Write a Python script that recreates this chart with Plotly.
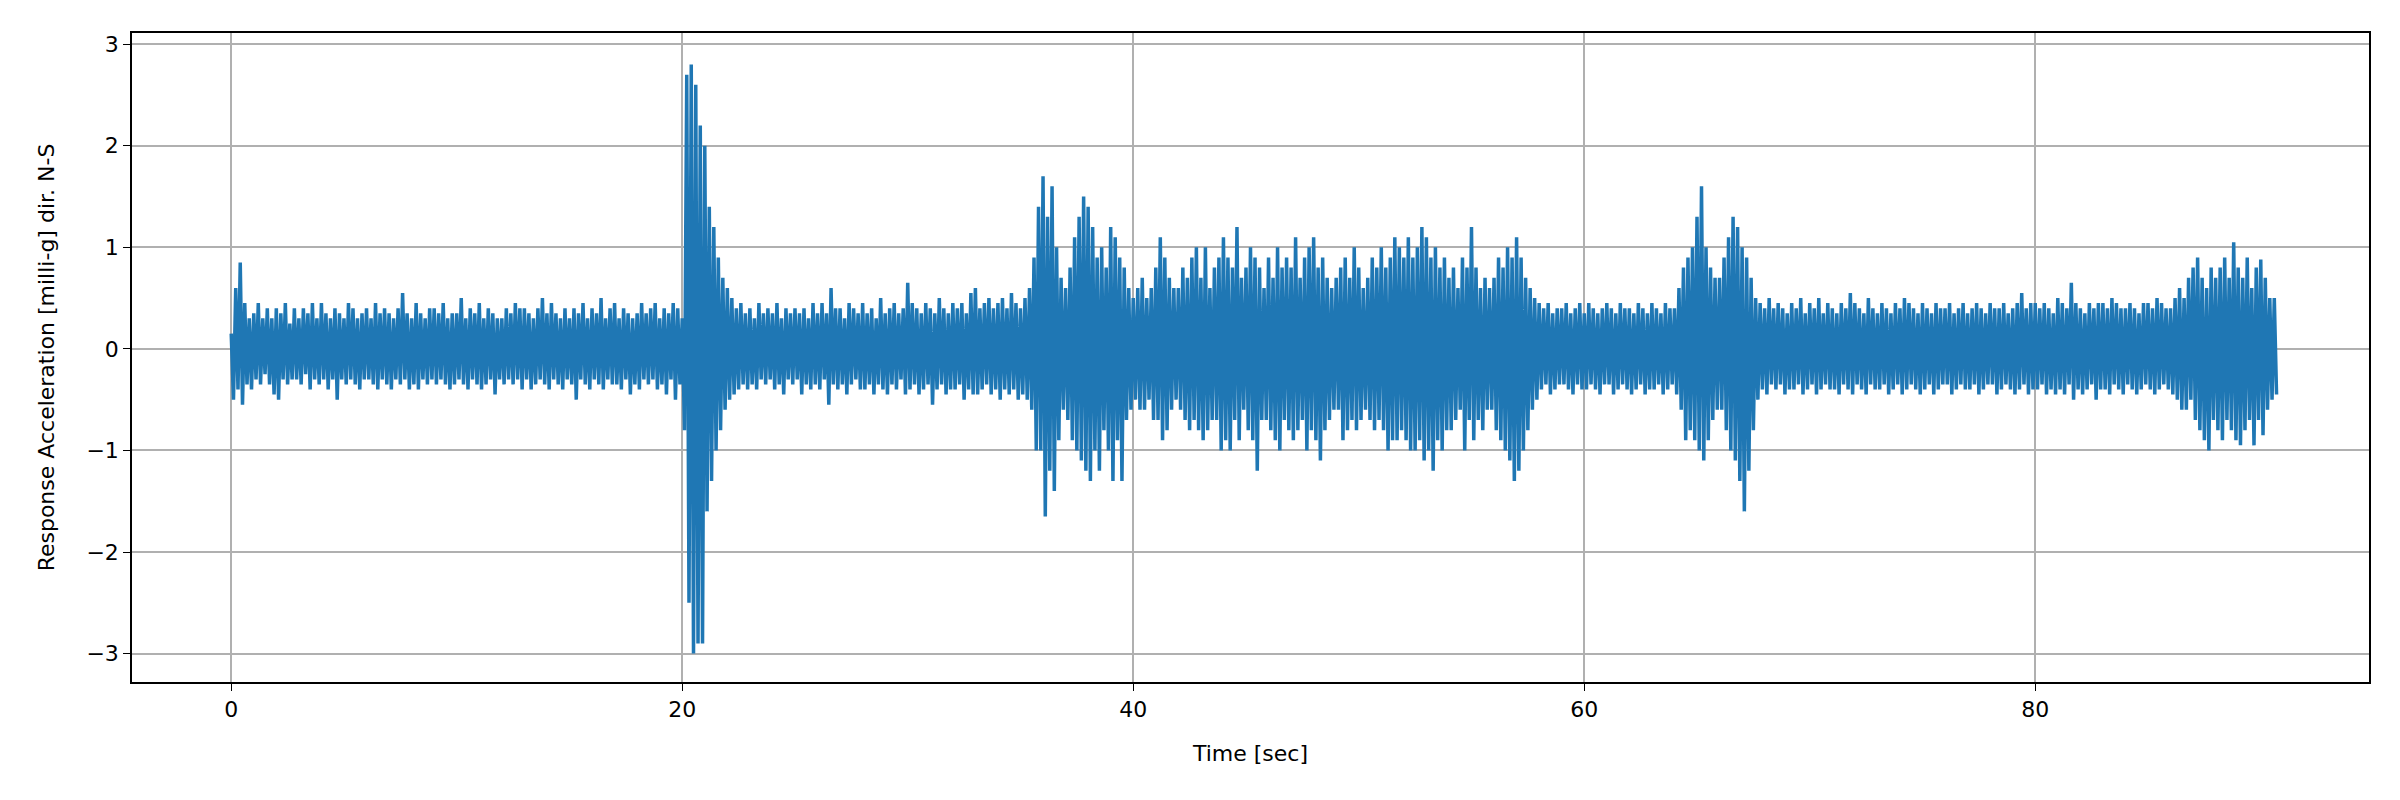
import plotly.graph_objects as go

dt = 0.1

# Response acceleration [milli-g], one row per second
accel = [
    0.15, -0.50, 0.60, -0.40, 0.85, -0.55, 0.45, -0.35, 0.30, -0.40,   # 0
    0.35, -0.30, 0.45, -0.35, 0.30, -0.25, 0.40, -0.35, 0.30, -0.45,
    0.40, -0.50, 0.35, -0.30, 0.45, -0.35, 0.25, -0.30, 0.40, -0.30,
    0.30, -0.35, 0.40, -0.25, 0.35, -0.40, 0.45, -0.30, 0.30, -0.35,
    0.45, -0.30, 0.35, -0.40, 0.30, -0.30, 0.40, -0.50, 0.35, -0.30,
    0.30, -0.35, 0.45, -0.30, 0.40, -0.35, 0.30, -0.40, 0.35, -0.30,   # 5
    0.40, -0.30, 0.30, -0.35, 0.45, -0.40, 0.35, -0.30, 0.40, -0.35,
    0.35, -0.40, 0.30, -0.30, 0.40, -0.35, 0.55, -0.30, 0.35, -0.40,
    0.30, -0.35, 0.45, -0.40, 0.35, -0.30, 0.30, -0.35, 0.40, -0.30,
    0.40, -0.35, 0.35, -0.30, 0.45, -0.35, 0.30, -0.40, 0.35, -0.35,
    0.35, -0.30, 0.50, -0.35, 0.30, -0.40, 0.40, -0.30, 0.35, -0.35,   # 10
    0.45, -0.40, 0.30, -0.35, 0.40, -0.30, 0.35, -0.45, 0.30, -0.30,
    0.30, -0.35, 0.40, -0.30, 0.35, -0.35, 0.45, -0.30, 0.40, -0.40,
    0.40, -0.30, 0.35, -0.40, 0.30, -0.35, 0.40, -0.30, 0.50, -0.35,
    0.35, -0.40, 0.45, -0.30, 0.35, -0.35, 0.30, -0.40, 0.40, -0.30,
    0.30, -0.35, 0.40, -0.50, 0.35, -0.30, 0.45, -0.35, 0.30, -0.40,   # 15
    0.40, -0.30, 0.35, -0.35, 0.50, -0.40, 0.30, -0.30, 0.40, -0.35,
    0.45, -0.35, 0.30, -0.40, 0.40, -0.30, 0.35, -0.45, 0.30, -0.35,
    0.35, -0.40, 0.45, -0.30, 0.35, -0.35, 0.40, -0.30, 0.45, -0.40,
    0.30, -0.35, 0.40, -0.45, 0.35, -0.30, 0.45, -0.50, 0.40, -0.35,
    0.30, -0.80, 2.70, -2.50, 2.80, -3.00, 2.60, -2.90, 2.20, -2.90,   # 20
    2.00, -1.60, 1.40, -1.30, 1.20, -1.00, 0.90, -0.80, 0.70, -0.60,
    0.60, -0.50, 0.50, -0.45, 0.40, -0.40, 0.45, -0.35, 0.35, -0.40,
    0.40, -0.35, 0.30, -0.40, 0.45, -0.30, 0.35, -0.35, 0.40, -0.30,
    0.35, -0.40, 0.45, -0.35, 0.30, -0.45, 0.40, -0.30, 0.35, -0.35,
    0.40, -0.30, 0.35, -0.45, 0.40, -0.35, 0.30, -0.40, 0.45, -0.35,   # 25
    0.35, -0.40, 0.45, -0.30, 0.35, -0.55, 0.60, -0.35, 0.40, -0.40,
    0.40, -0.35, 0.30, -0.45, 0.45, -0.35, 0.40, -0.30, 0.35, -0.40,
    0.45, -0.40, 0.35, -0.35, 0.40, -0.45, 0.30, -0.35, 0.50, -0.40,
    0.35, -0.45, 0.40, -0.35, 0.45, -0.40, 0.35, -0.30, 0.40, -0.45,
    0.65, -0.40, 0.45, -0.35, 0.40, -0.45, 0.35, -0.40, 0.45, -0.35,   # 30
    0.40, -0.55, 0.35, -0.40, 0.50, -0.35, 0.40, -0.45, 0.35, -0.40,
    0.45, -0.40, 0.40, -0.35, 0.45, -0.50, 0.35, -0.40, 0.55, -0.45,
    0.60, -0.45, 0.40, -0.40, 0.45, -0.35, 0.50, -0.45, 0.40, -0.40,
    0.45, -0.50, 0.50, -0.40, 0.40, -0.45, 0.55, -0.40, 0.45, -0.50,
    0.40, -0.45, 0.50, -0.50, 0.60, -0.60, 0.90, -1.00, 1.40, -1.00,   # 35
    1.70, -1.65, 1.30, -1.20, 1.60, -1.40, 1.00, -0.90, 0.70, -0.60,
    0.60, -0.70, 0.80, -0.90, 1.10, -1.00, 1.30, -1.10, 1.50, -1.20,
    1.40, -1.30, 1.20, -1.00, 0.90, -1.20, 1.00, -0.80, 0.80, -1.00,
    1.20, -1.30, 1.10, -0.90, 0.90, -1.30, 0.80, -0.70, 0.60, -0.60,
    0.50, -0.50, 0.60, -0.60, 0.70, -0.60, 0.50, -0.50, 0.60, -0.70,   # 40
    0.80, -0.70, 1.10, -0.90, 0.90, -0.80, 0.70, -0.60, 0.60, -0.50,
    0.60, -0.60, 0.80, -0.70, 0.70, -0.80, 0.90, -0.70, 1.00, -0.80,
    0.70, -0.90, 1.00, -0.80, 0.60, -0.70, 0.80, -0.70, 0.90, -1.00,
    1.10, -0.90, 0.90, -1.00, 0.80, -0.70, 1.20, -0.90, 0.70, -0.60,
    0.80, -0.80, 1.00, -0.90, 0.90, -1.20, 0.80, -0.70, 0.60, -0.70,   # 45
    0.90, -0.80, 0.70, -0.90, 1.00, -1.00, 0.80, -0.70, 0.90, -0.80,
    0.80, -0.90, 1.10, -0.80, 0.70, -0.70, 0.90, -1.00, 1.00, -0.80,
    1.10, -0.90, 0.80, -1.10, 0.90, -0.80, 0.70, -0.70, 0.60, -0.60,
    0.70, -0.60, 0.80, -0.90, 0.90, -0.80, 0.70, -0.70, 1.00, -0.80,
    0.80, -0.70, 0.60, -0.60, 0.70, -0.70, 0.90, -0.80, 0.80, -0.70,   # 50
    1.00, -0.80, 0.80, -1.00, 0.90, -0.90, 1.10, -0.90, 1.00, -0.80,
    0.90, -0.90, 1.10, -1.00, 0.90, -1.00, 1.00, -0.90, 1.20, -1.10,
    1.10, -1.00, 0.90, -1.20, 1.00, -0.90, 0.80, -1.00, 0.90, -0.80,
    0.70, -0.80, 0.80, -0.70, 0.60, -0.60, 0.90, -1.00, 0.80, -0.70,
    1.20, -0.90, 0.80, -0.70, 0.60, -0.80, 0.70, -0.60, 0.60, -0.60,   # 55
    0.70, -0.80, 0.90, -0.90, 0.80, -1.00, 1.00, -1.10, 0.90, -1.30,
    1.10, -1.20, 0.90, -1.00, 0.70, -0.80, 0.60, -0.60, 0.50, -0.50,
    0.45, -0.40, 0.40, -0.35, 0.45, -0.45, 0.35, -0.40, 0.40, -0.35,
    0.40, -0.35, 0.45, -0.40, 0.35, -0.45, 0.40, -0.35, 0.45, -0.40,
    0.35, -0.40, 0.45, -0.35, 0.40, -0.40, 0.35, -0.45, 0.40, -0.35,   # 60
    0.45, -0.35, 0.40, -0.45, 0.35, -0.40, 0.45, -0.35, 0.40, -0.40,
    0.40, -0.45, 0.35, -0.40, 0.45, -0.35, 0.40, -0.45, 0.35, -0.40,
    0.45, -0.40, 0.40, -0.35, 0.35, -0.45, 0.45, -0.40, 0.40, -0.35,
    0.40, -0.45, 0.60, -0.60, 0.80, -0.90, 0.90, -0.80, 1.00, -0.90,
    1.30, -1.00, 1.60, -1.10, 1.00, -0.90, 0.80, -0.70, 0.70, -0.60,   # 65
    0.70, -0.60, 0.90, -0.80, 1.10, -1.00, 1.30, -1.10, 1.20, -1.30,
    1.00, -1.60, 0.90, -1.20, 0.70, -0.80, 0.50, -0.50, 0.45, -0.40,
    0.40, -0.45, 0.50, -0.35, 0.40, -0.40, 0.45, -0.35, 0.40, -0.45,
    0.35, -0.40, 0.45, -0.40, 0.40, -0.35, 0.50, -0.45, 0.35, -0.40,
    0.45, -0.35, 0.40, -0.45, 0.50, -0.40, 0.35, -0.35, 0.45, -0.40,   # 70
    0.40, -0.40, 0.35, -0.45, 0.45, -0.35, 0.40, -0.40, 0.55, -0.45,
    0.45, -0.35, 0.40, -0.40, 0.35, -0.45, 0.50, -0.35, 0.40, -0.40,
    0.35, -0.40, 0.45, -0.35, 0.40, -0.45, 0.35, -0.40, 0.45, -0.35,
    0.40, -0.45, 0.50, -0.40, 0.45, -0.35, 0.40, -0.40, 0.35, -0.45,
    0.45, -0.40, 0.40, -0.35, 0.35, -0.45, 0.45, -0.40, 0.40, -0.35,   # 75
    0.40, -0.35, 0.45, -0.45, 0.35, -0.40, 0.40, -0.35, 0.45, -0.40,
    0.35, -0.40, 0.40, -0.35, 0.45, -0.45, 0.40, -0.40, 0.35, -0.35,
    0.45, -0.35, 0.40, -0.45, 0.40, -0.40, 0.45, -0.35, 0.35, -0.40,
    0.40, -0.45, 0.45, -0.40, 0.55, -0.35, 0.40, -0.45, 0.45, -0.40,
    0.45, -0.40, 0.40, -0.35, 0.45, -0.45, 0.40, -0.40, 0.35, -0.45,   # 80
    0.50, -0.40, 0.45, -0.45, 0.40, -0.35, 0.65, -0.50, 0.45, -0.40,
    0.40, -0.45, 0.35, -0.40, 0.45, -0.35, 0.40, -0.50, 0.45, -0.40,
    0.45, -0.40, 0.40, -0.45, 0.50, -0.35, 0.45, -0.40, 0.40, -0.45,
    0.40, -0.35, 0.45, -0.40, 0.40, -0.45, 0.35, -0.40, 0.45, -0.35,
    0.45, -0.40, 0.40, -0.45, 0.50, -0.40, 0.45, -0.35, 0.40, -0.40,   # 85
    0.40, -0.45, 0.50, -0.50, 0.60, -0.60, 0.50, -0.60, 0.70, -0.50,
    0.80, -0.70, 0.90, -0.80, 0.70, -0.90, 0.60, -1.00, 0.80, -0.70,
    0.70, -0.80, 0.80, -0.90, 0.90, -0.70, 0.70, -0.80, 1.05, -0.90,
    0.80, -0.95, 0.70, -0.80, 0.90, -0.70, 0.60, -0.95, 0.80, -0.70,
    0.88, -0.85, 0.70, -0.60, 0.50, -0.50, 0.50, -0.45,                # 90
]
time = [i * dt for i in range(len(accel))]

fig = go.Figure(go.Scatter(x=time, y=accel, mode='lines',
                           line=dict(color='#1f77b4', width=3.5)))
font = dict(family='DejaVu Sans', size=22, color='black')
axis = dict(showline=True, linecolor='black', mirror=True, linewidth=1.5,
            showgrid=True, gridcolor='#b0b0b0', gridwidth=1.5, zeroline=False,
            ticks='outside', ticklen=7, tickcolor='black', tickfont=font)
fig.update_xaxes(axis, range=[-4.4, 94.8], dtick=20,
                 title=dict(text='Time [sec]', font=font, standoff=24))
fig.update_yaxes(axis, range=[-3.28, 3.11], dtick=1,
                 title=dict(text='Response Acceleration [milli-g] dir. N-S', font=font, standoff=26))
fig.update_layout(
    width=2400, height=800, plot_bgcolor='white', paper_bgcolor='white',
    margin=dict(l=124, r=39, t=25, b=126), showlegend=False,
)
fig.write_html('out.html')
